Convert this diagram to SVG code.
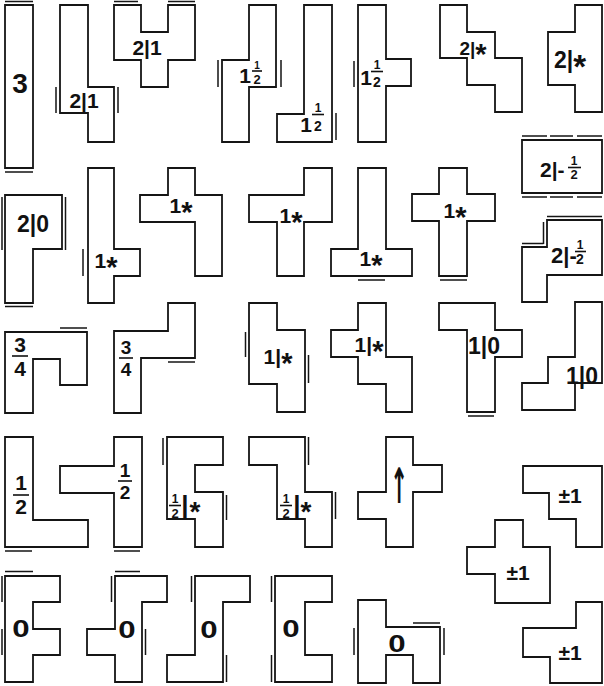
<svg xmlns="http://www.w3.org/2000/svg" width="604" height="686" viewBox="0 0 604 686">
<style>
.p{fill:#fff;stroke:#151515;stroke-width:1.8;stroke-linejoin:miter}
.d{stroke:#151515;stroke-width:1.5;fill:none}
.t{font-family:"Liberation Sans",Arial,sans-serif;font-weight:bold;font-size:21px;fill:#111;text-anchor:middle}
.f{font-family:"Liberation Sans",Arial,sans-serif;font-weight:bold;font-size:12px;fill:#111;text-anchor:middle}
.st{font-size:29px}
.o{font-family:"Liberation Sans",Arial,sans-serif;font-weight:bold;font-size:24px;fill:#111;text-anchor:middle}
.b{stroke:#111;stroke-width:1.6}
.ar{font-family:"DejaVu Sans",sans-serif;font-weight:bold;font-size:28px;fill:#111;text-anchor:middle}
</style>
<rect width="604" height="686" fill="#fff"/>
<g id="connectors"></g>

<g id="p1"><polygon class="p" points="5,5 33,5 33,168 5,168"/><path class="d" d="M5,1.5H33M5,172H33"/><text class="t" x="20" y="93" style="font-size:28px">3</text></g>

<g id="p2"><polygon class="p" points="60,5 88,5 88,87 114,87 114,142 88,142 88,113 60,113"/><path class="d" d="M56,87V113M118,87V113"/><text class="t" x="84" y="108">2|1</text></g>

<g id="p3"><polygon class="p" points="114,5 141,5 141,32 168,32 168,5 195,5 195,60 168,60 168,87 141,87 141,60 114,60"/><path class="d" d="M114,1.5H138M168,1.5H195"/><text class="t" x="147" y="55">2|1</text></g>

<g id="p4"><polygon class="p" points="249,5 276,5 276,87 249,87 249,142 222,142 222,60 249,60"/><path class="d" d="M218,60V87M281,60V87"/><text class="t" x="245" y="83">1</text><text class="f" x="257" y="69" style="font-size:10px">1</text><line class="b" x1="252" y1="71" x2="262" y2="71"/><text class="f" x="257" y="84" style="font-size:13px">2</text></g>

<g id="p5"><polygon class="p" points="304,5 332,5 332,142 277,142 277,114 304,114"/><path class="d" d="M336,113V140"/><text class="t" x="306" y="132">1</text><text class="f" x="318" y="112">1</text><line class="b" x1="312" y1="114.5" x2="324" y2="114.5"/><text class="f" x="318" y="131" style="font-size:14px">2</text></g>

<g id="p6"><polygon class="p" points="358,5 386,5 386,59 411,59 411,86 386,86 386,142 358,142"/><path class="d" d="M354,61V87"/><text class="t" x="366" y="85">1</text><text class="f" x="377" y="69">1</text><line class="b" x1="371" y1="71.5" x2="383" y2="71.5"/><text class="f" x="377" y="87" style="font-size:14px">2</text></g>

<g id="p7"><polygon class="p" points="440,5 467,5 467,32 495,32 495,58 522,58 522,112 495,112 495,85 467,85 467,58 440,58"/><text class="t" x="473" y="55" style="font-size:19px">2|<tspan class="st" dy="9">*</tspan></text></g>

<g id="p8"><polygon class="p" points="575,5 602,5 602,112 575,112 575,85 548,85 548,32 575,32"/><text class="t" x="570" y="68" style="font-size:23px">2|<tspan style="font-size:33px" dy="10">*</tspan></text></g>

<g id="p9"><polygon class="p" points="522,140 602,140 602,193 522,193"/><path class="d" d="M522,136H547M550,136H573M577,136H602M522,197H547M550,197H573M577,197H602"/><text class="t" x="540" y="177" style="text-anchor:start">2|-</text><text class="f" x="574" y="165">1</text><line class="b" x1="568" y1="167.5" x2="581" y2="167.5"/><text class="f" x="574" y="179" style="font-size:13px">2</text></g>

<g id="p10"><polygon class="p" points="5,195 62,195 62,249 33,249 33,303 5,303"/><path class="d" d="M2,197V250M65.5,197V250M5,306.5H33"/><text class="t" x="33" y="232" style="font-size:23px">2|0</text></g>

<g id="p11"><polygon class="p" points="88,168 114,168 114,249 140,249 140,276 114,276 114,303 88,303"/><path class="d" d="M83,249V276"/><text class="t" x="106" y="268">1<tspan class="st" dy="9">*</tspan></text></g>

<g id="p12"><polygon class="p" points="168,168 195,168 195,195 222,195 222,276 195,276 195,222 140,222 140,195 168,195"/><text class="t" x="181" y="213">1<tspan class="st" dy="9">*</tspan></text></g>

<g id="p13"><polygon class="p" points="304,168 332,168 332,222 304,222 304,276 277,276 277,222 249,222 249,195 304,195"/><text class="t" x="291" y="223">1<tspan class="st" dy="9">*</tspan></text></g>

<g id="p14"><polygon class="p" points="358,168 386,168 386,249 412,249 412,276 331,276 331,249 358,249"/><path class="d" d="M358,280H385"/><text class="t" x="371" y="266">1<tspan class="st" dy="9">*</tspan></text></g>

<g id="p15"><polygon class="p" points="439,168 467,168 467,194 495,194 495,221 467,221 467,276 439,276 439,221 412,221 412,194 439,194"/><path class="d" d="M440,280H467"/><text class="t" x="455" y="218">1<tspan class="st" dy="9">*</tspan></text></g>

<g id="p16"><polygon class="p" points="547,220 602,220 602,275 547,275 547,302 522,302 522,247 547,247"/><path class="d" d="M547,216.5H602M543.5,222V244M522,243.5H543.5"/><text class="t" x="551" y="263" style="text-anchor:start;font-size:22px">2|-</text><text class="f" x="580" y="249">1</text><line class="b" x1="575" y1="251.5" x2="586" y2="251.5"/><text class="f" x="580" y="264" style="font-size:14px">2</text></g>

<g id="p17"><polygon class="p" points="5,332 87,332 87,385 60,385 60,359 33,359 33,413 5,413"/><path class="d" d="M60,328H87"/><text class="t" x="20" y="352">3</text><line class="b" x1="12" y1="356" x2="28" y2="356"/><text class="t" x="20" y="376">4</text></g>

<g id="p18"><polygon class="p" points="168,303 195,303 195,358 141,358 141,413 114,413 114,331 168,331"/><path class="d" d="M168,362H195"/><text class="t" x="126" y="354" style="font-size:19px">3</text><line class="b" x1="119" y1="358" x2="133" y2="358"/><text class="t" x="126" y="376" style="font-size:19px">4</text></g>

<g id="p19"><polygon class="p" points="249,303 277,303 277,330 305,330 305,412 277,412 277,384 249,384"/><path class="d" d="M245.5,332V357M308.5,355V383"/><text class="t" x="278" y="364">1|<tspan class="st" dy="9">*</tspan></text></g>

<g id="p20"><polygon class="p" points="358,303 386,303 386,357 412,357 412,412 386,412 386,384 358,384 358,357 331,357 331,330 358,330"/><text class="t" x="369" y="352">1|<tspan class="st" dy="9">*</tspan></text></g>

<g id="p21"><polygon class="p" points="439,303 495,303 495,330 522,330 522,357 495,357 495,412 467,412 467,330 439,330"/><path class="d" d="M468,416H494"/><text class="t" x="484" y="354" style="font-size:23px">1|0</text></g>

<g id="p22"><polygon class="p" points="575,302 602,302 602,383 575,383 575,410 522,410 522,383 548,383 548,357 575,357"/><text class="t" x="582" y="384" style="font-size:23px">1|0</text></g>

<g id="p23"><polygon class="p" points="5,437 33,437 33,520 88,520 88,547 5,547"/><path class="d" d="M5,551H32"/><text class="t" x="21" y="490">1</text><line class="b" x1="13" y1="495" x2="29" y2="495"/><text class="t" x="21" y="514">2</text></g>

<g id="p24"><polygon class="p" points="114,437 142,437 142,547 114,547 114,493 60,493 60,466 114,466"/><path class="d" d="M114,551H140"/><text class="t" x="125" y="477" style="font-size:19px">1</text><line class="b" x1="118" y1="481" x2="132" y2="481"/><text class="t" x="125" y="499" style="font-size:19px">2</text></g>

<g id="p25"><polygon class="p" points="167,437 223,437 223,465 195,465 195,492 223,492 223,547 195,547 195,519 167,519"/><path class="d" d="M163,438V465M226.5,495V520"/><text class="f" x="175" y="503">1</text><line class="b" x1="169" y1="505.5" x2="181" y2="505.5"/><text class="f" x="175" y="518" style="font-size:13px">2</text><text class="t" x="185" y="514" style="font-size:26px">|</text><text class="t" x="195" y="521" style="font-size:28px">*</text></g>

<g id="p26"><polygon class="p" points="249,437 305,437 305,492 332,492 332,547 305,547 305,519 277,519 277,465 249,465"/><path class="d" d="M308.5,437V465M335.5,492V519"/><text class="f" x="286" y="503">1</text><line class="b" x1="280" y1="505.5" x2="292" y2="505.5"/><text class="f" x="286" y="518" style="font-size:13px">2</text><text class="t" x="297" y="514" style="font-size:26px">|</text><text class="t" x="306" y="521" style="font-size:28px">*</text></g>

<g id="p27"><polygon class="p" points="386,437 413,437 413,465 442,465 442,492 413,492 413,547 386,547 386,519 358,519 358,492 386,492"/><text class="ar" transform="translate(399,503) scale(0.75,1.75)">↑</text></g>

<g id="p28"><polygon class="p" points="523,466 602,466 602,547 576,547 576,519 549,519 549,493 523,493"/><text class="t" x="570" y="503">±1</text></g>

<g id="p29"><polygon class="p" points="495,520 523,520 523,547 550,547 550,603 495,603 495,574 467,574 467,547 495,547"/><text class="t" x="518" y="580">±1</text></g>

<g id="p30"><polygon class="p" points="5,576 60,576 60,602 33,602 33,629 60,629 60,655 33,655 33,682 5,682"/><path class="d" d="M5,571.5H33M2,576V602M2,629V655"/><text class="o" transform="translate(21,637) scale(1.3,1)">0</text></g>

<g id="p31"><polygon class="p" points="115,576 167,576 167,602 142,602 142,682 115,682 115,655 87,655 87,629 115,629"/><path class="d" d="M115,571.5H140M111.5,576V602M145.5,629V655"/><text class="o" transform="translate(127,638) scale(1.3,1)">0</text></g>

<g id="p32"><polygon class="p" points="195,576 250,576 250,602 223,602 223,682 167,682 167,655 195,655"/><path class="d" d="M191.5,576V602M226.5,655V682"/><text class="o" transform="translate(209,638) scale(1.3,1)">0</text></g>

<g id="p33"><polygon class="p" points="275,576 332,576 332,602 305,602 305,655 332,655 332,682 275,682"/><path class="d" d="M271.5,576V602M271.5,655V682"/><text class="o" transform="translate(291,637) scale(1.3,1)">0</text></g>

<g id="p34"><polygon class="p" points="358,600 386,600 386,627 440,627 440,683 413,683 413,655 386,655 386,683 358,683"/><path class="d" d="M354,628V655M444,628V655M413,623H440"/><text class="o" transform="translate(397,652) scale(1.3,1)">0</text></g>

<g id="p35"><polygon class="p" points="576,602 602,602 602,683 550,683 550,657 523,657 523,628 576,628"/><text class="t" x="570" y="660">±1</text></g>
</svg>
